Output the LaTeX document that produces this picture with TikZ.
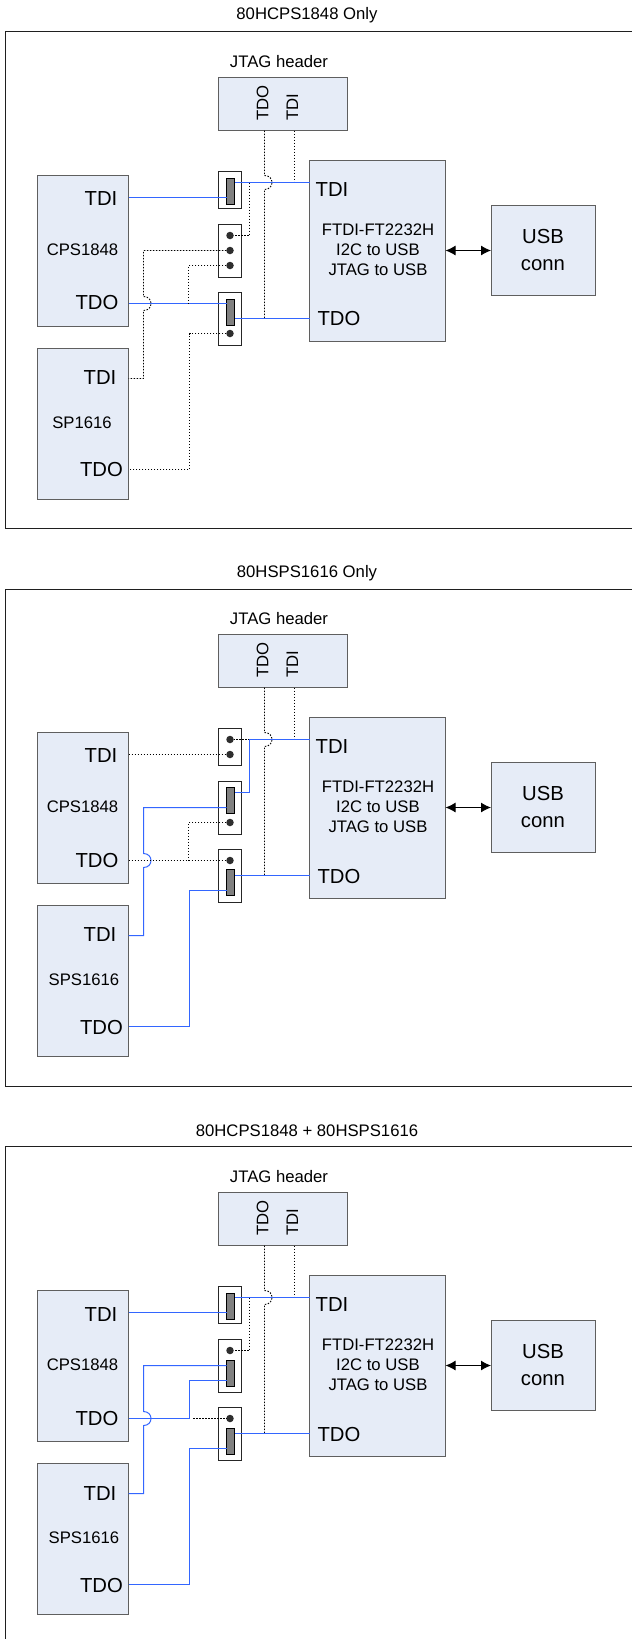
\documentclass[tikz,border=0pt]{standalone}
\usepackage{fontspec}
\setmainfont{Liberation Sans}
\usetikzlibrary{arrows.meta}
\definecolor{boxfill}{HTML}{E6ECF7}
\definecolor{boxline}{HTML}{5F5F5F}
\definecolor{wireblue}{HTML}{3366FF}
\tikzset{
  blk/.style={draw=boxline,line width=1pt,fill=boxfill,anchor=north west,inner sep=0pt,outer sep=0pt},
  jump/.style={draw=black!85,line width=1pt,fill=white,anchor=north west,inner sep=0pt,outer sep=0pt,minimum width=23pt},
  shunt/.style={draw=black,line width=.8pt,fill=black!50,anchor=north west,inner sep=0pt,outer sep=0pt,minimum width=8pt,minimum height=26pt},
  pindot/.style={circle,fill=black!82,inner sep=0pt,outer sep=0pt,minimum size=7.5pt},
  big/.style={font=\fontsize{20.3}{22}\selectfont,inner sep=0pt},
  small/.style={font=\fontsize{16.7}{20}\selectfont,inner sep=0pt},
  bl/.style={draw=wireblue,line width=1pt},
  dt/.style={draw=black,line width=.9pt,dash pattern=on 1.5pt off 1.5pt},
  frame/.style={draw=black!88,line width=1pt},
  link/.style={draw=black,line width=1pt,{Latex[length=10pt,width=10pt]}-{Latex[length=10pt,width=10pt]}}
}
% common parts of a panel: #1 prefix, #2 position of the second device's name
\newcommand{\panelbase}[2]{
  \node[blk,minimum width=129pt,minimum height=53pt] (#1jtag) at (218.5,77.5) {};
  \node[small] (#1jt) at (279,61.5) {JTAG header};
  \node[small,rotate=90] (#1jo) at (262.5,103) {TDO};
  \node[small,rotate=90] (#1ji) at (292.5,107) {TDI};
  \node[blk,minimum width=136pt,minimum height=181pt] (#1ftdi) at (309.5,160.5) {};
  \node[big] (#1fi) at (332,190) {TDI};
  \node[big] (#1fo) at (339,319) {TDO};
  \node[small,align=center] (#1ft) at (378,250) {FTDI-FT2232H\\I2C to USB\\JTAG to USB};
  \node[blk,minimum width=104pt,minimum height=90pt] (#1usb) at (491,205.5) {};
  \node[big,align=center,font=\fontsize{20.3}{26.5}\selectfont] (#1ut) at (543,250) {USB\\conn};
  \node[blk,minimum width=91pt,minimum height=151pt] (#1cps) at (37.5,175.5) {};
  \node[big] (#1ci) at (101,199) {TDI};
  \node[big] (#1co) at (97,303) {TDO};
  \node[small] (#1cl) at (82.5,250) {CPS1848};
  \node[blk,minimum width=91pt,minimum height=151pt] (#1sp) at (37.5,348.5) {};
  \node[big] (#1si) at (100,378) {TDI};
  \node[big] (#1so) at (101.5,470) {TDO};
  \node[small] (#1sl) at (#2) {\csname lbl#1\endcsname};
  \draw[link] (#1ftdi.east |- 0,250.5) -- (#1usb.west |- 0,250.5);
  \coordinate (#1cTDI) at (128.5,197.5);
  \coordinate (#1cTDO) at (128.5,303.5);
  \coordinate (#1sTDI) at (128.5,378.5);
  \coordinate (#1sTDO) at (128.5,469.5);
  \coordinate (#1fTDI) at (309.5,182.5);
  \coordinate (#1fTDO) at (309.5,318.5);
  \coordinate (#1tap) at (249.5,182.5);
  \coordinate (#1bA) at (264.5,175.5);
  \coordinate (#1bB) at (264.5,189.5);
  \coordinate (#1bC) at (143.5,296.5);
  \coordinate (#1bD) at (143.5,310.5);
  \coordinate (#1hi) at (294.5,182.5);
  \draw[dt] (#1jtag.south -| #1bA) -- (#1bA) .. controls +(10,0) and +(10,0) .. (#1bB) -- (#1bB |- #1fTDO);
  \draw[dt] (#1jtag.south -| #1hi) -- (#1hi);
}
\newcommand{\lbla}{SP1616}
\newcommand{\lblb}{SPS1616}
\newcommand{\lblc}{SPS1616}
\begin{document}
\begin{tikzpicture}[x=1pt,y=-1pt]
\useasboundingbox (0,0) rectangle (632,1639);
\fill[white] (0,0) rectangle (632,1639);
% titles and frames
\node[small] (t1) at (307,15) {80HCPS1848 Only};
\node[small] (t2) at (307,573) {80HSPS1616  Only};
\node[small] (t3) at (307,1131) {80HCPS1848 + 80HSPS1616};
\draw[frame] (632,31.5) -- (5.5,31.5) -- (5.5,528.5) -- (632,528.5);
\draw[frame] (632,589.5) -- (5.5,589.5) -- (5.5,1086.5) -- (632,1086.5);
\draw[frame] (632,1146.5) -- (5.5,1146.5) -- (5.5,1639);

% ---------- panel 1
\begin{scope}
\panelbase{a}{82,423}
\node[jump,minimum height=37pt] (aj1) at (218.5,171.5) {};
\node[shunt] (ar1) at (226.5,178.5) {};
\node[jump,minimum height=53pt] (aj2) at (218.5,224.5) {};
\node[pindot] (ad1) at (230,235.5) {};
\node[pindot] (ad2) at (230,250.5) {};
\node[pindot] (ad3) at (230,265.5) {};
\node[jump,minimum height=53pt] (aj3) at (218.5,292.5) {};
\node[shunt] (ar3) at (226.5,299.5) {};
\node[pindot] (ad4) at (230,333.5) {};
\draw[bl] (acTDI) -- (ar1.west |- acTDI);
\draw[bl] (afTDI) -- (ar1.east |- afTDI);
\draw[bl] (acTDO) -- (ar3.west |- acTDO);
\draw[bl] (afTDO) -- (ar3.east |- afTDO);
\draw[dt] (atap) |- (ad1);
\draw[dt] (ad2) -| (abC) .. controls +(10,0) and +(10,0) .. (abD) |- (asTDI);
\draw[dt] (ad3) -| (188.5,303.5);
\draw[dt] (ad4) -| (189.5,469.5) -- (asTDO);
\end{scope}

% ---------- panel 2
\begin{scope}[yshift=-557pt]
\panelbase{b}{84,423}
\node[jump,minimum height=37pt] (bj1) at (218.5,171.5) {};
\node[pindot] (bd1) at (230,182.5) {};
\node[pindot] (bd2) at (230,197.5) {};
\node[jump,minimum height=53pt] (bj2) at (218.5,224.5) {};
\node[shunt] (br2) at (226.5,230.5) {};
\node[pindot] (bd3) at (230,265.5) {};
\node[jump,minimum height=53pt] (bj3) at (218.5,292.5) {};
\node[pindot] (bd4) at (230,303.5) {};
\node[shunt] (br3) at (226.5,312.5) {};
\draw[dt] (bcTDI) -- (bd2);
\draw[dt] (btap) -- (bd1);
\draw[bl] (bfTDI) -- (btap) |- (br2.east |- 0,235.5);
\draw[bl] (br2.west |- 0,250.5) -| (bbC) .. controls +(10,0) and +(10,0) .. (bbD) |- (bsTDI);
\draw[dt] (bcTDO) -- (bd4);
\draw[dt] (bd3) -| (188.5,303.5);
\draw[bl] (bfTDO) -- (br3.east |- bfTDO);
\draw[bl] (br3.west |- 0,333.5) -| (189.5,469.5) -- (bsTDO);
\end{scope}

% ---------- panel 3
\begin{scope}[yshift=-1115pt]
\panelbase{c}{84,423}
\node[jump,minimum height=37pt] (cj1) at (218.5,171.5) {};
\node[shunt] (cr1) at (226.5,178.5) {};
\node[jump,minimum height=53pt] (cj2) at (218.5,224.5) {};
\node[pindot] (cd1) at (230,235.5) {};
\node[shunt] (cr2) at (226.5,245.5) {};
\node[jump,minimum height=53pt] (cj3) at (218.5,292.5) {};
\node[pindot] (cd2) at (230,303.5) {};
\node[shunt] (cr3) at (226.5,313.5) {};
\draw[bl] (ccTDI) -- (cr1.west |- ccTDI);
\draw[bl] (cfTDI) -- (cr1.east |- cfTDI);
\draw[dt] (ctap) |- (cd1);
\draw[bl] (cr2.west |- 0,250.5) -| (cbC) .. controls +(10,0) and +(10,0) .. (cbD) |- (csTDI);
\draw[bl] (ccTDO) -| (189.5,265.5) -- (cr2.west |- 0,265.5);
\coordinate (cdEnd) at (193,303.5);
\draw[dt] (cdEnd) -- (cd2);
\draw[bl] (cfTDO) -- (cr3.east |- cfTDO);
\draw[bl] (cr3.west |- 0,333.5) -| (189.5,469.5) -- (csTDO);
\end{scope}
\end{tikzpicture}
\end{document}
